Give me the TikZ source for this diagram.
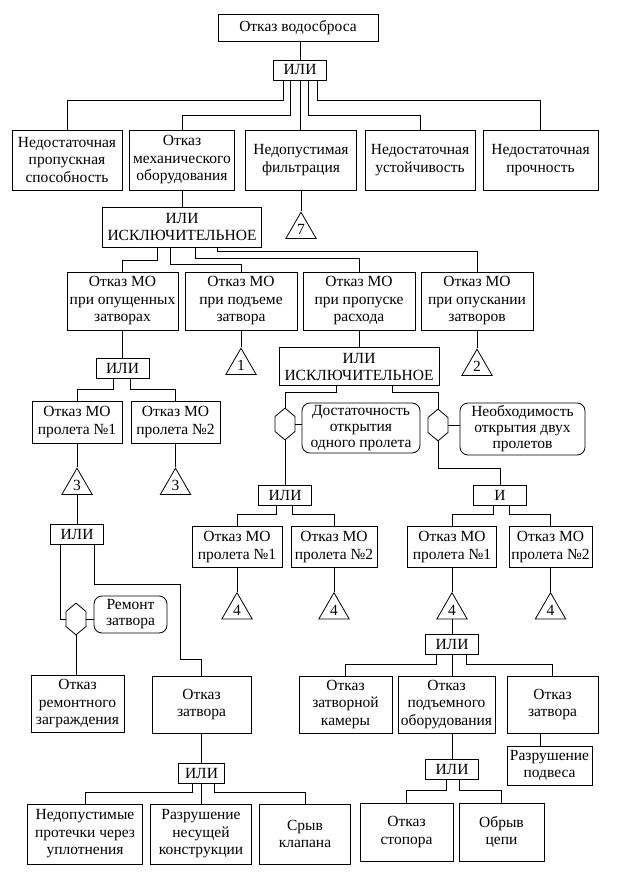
\documentclass[tikz,border=0pt]{standalone}
\usepackage{fontspec}
\setmainfont{Liberation Serif}
\usetikzlibrary{shapes.geometric,shapes.symbols,positioning}

\tikzset{
  box/.style={draw,rectangle,align=center,inner sep=1pt},
  gate/.style={draw,rectangle,inner sep=0pt,minimum width=53pt,minimum height=20pt},
  trg/.style={draw,regular polygon,regular polygon sides=3,inner sep=0pt,minimum size=35pt},
  hexa/.style={draw,signal,signal to=north and south,signal pointer angle=100,inner sep=0pt,minimum width=20pt,minimum height=15pt},
  cond/.style={draw,rounded corners=8pt,align=center,inner sep=1pt,font=\fontsize{15.5}{16}\selectfont}
}

\begin{document}
\begin{tikzpicture}[x=1pt,y=-1pt,line width=0.8pt,font=\fontsize{15.5}{17.5}\selectfont]
\useasboundingbox (0,0) rectangle (618,882);

% Top event
\node[box,minimum width=160pt,minimum height=27pt] (top) at (298,28) {Отказ водосброса};
\node[gate] (or0) at (300,70) {ИЛИ};

% First level
\node[box,minimum width=110pt,minimum height=60pt] (b1) at (67,160) {Недостаточная\\пропускная\\способность};
\node[box,minimum width=105pt,minimum height=60pt] (b2) at (182,160) {Отказ\\механического\\оборудования};
\node[box,minimum width=111pt,minimum height=60pt] (b3) at (301,160) {Недопустимая\\фильтрация};
\node[box,minimum width=110pt,minimum height=60pt] (b4) at (420,160) {Недостаточная\\устойчивость};
\node[box,minimum width=115pt,minimum height=60pt] (b5) at (540.5,160) {Недостаточная\\прочность};
\node[trg,below=21pt of b3] (t7) {7};

% Mechanical equipment
\node[box,minimum width=159pt,minimum height=40pt] (xor1) at (182,227) {ИЛИ\\ИСКЛЮЧИТЕЛЬНОЕ};
\node[box,minimum width=111pt,minimum height=58pt] (a) at (122.5,301) {Отказ МО\\при опущенных\\затворах};
\node[box,minimum width=112pt,minimum height=58pt] (b) at (241,301) {Отказ МО\\при подъеме\\затвора};
\node[box,minimum width=112pt,minimum height=58pt] (c) at (359,301) {Отказ МО\\при пропуске\\расхода};
\node[box,minimum width=112pt,minimum height=58pt] (d) at (477,301) {Отказ МО\\при опускании\\затворов};
\node[trg,below=17pt of b] (t1) {1};
\node[trg,below=18pt of d] (t2) {2};

% Lowered gates
\node[gate,below=28pt of a] (or1) {ИЛИ};
\node[box,minimum width=90pt,minimum height=42pt] (l1) at (77,422) {Отказ МО\\пролета №1};
\node[box,minimum width=89pt,minimum height=42pt] (l2) at (175.5,422) {Отказ МО\\пролета №2};
\node[trg,below=24pt of l1] (t3a) {3};
\node[trg,below=24pt of l2] (t3b) {3};
\node[gate,below=29pt of t3a] (or2) {ИЛИ};
\node[hexa] (h3) at (76,619) {};
\node[cond,minimum width=73pt,minimum height=37pt] (r3) at (130.5,614.5) {Ремонт\\затвора};
\node[box,minimum width=93pt,minimum height=57pt] (e1) at (77.5,704) {Отказ\\ремонтного\\заграждения};
\node[box,minimum width=99pt,minimum height=57pt] (e2) at (201.5,704.5) {Отказ\\затвора};
\node[gate,minimum width=46pt,below=30pt of e2] (or5) {ИЛИ};
\node[box,minimum width=115pt,minimum height=60pt] (f1) at (85,834) {Недопустимые\\протечки через\\уплотнения};
\node[box,minimum width=101pt,minimum height=60pt] (f2) at (201,834) {Разрушение\\несущей\\конструкции};
\node[box,minimum width=91pt,minimum height=60pt] (f3) at (305,834) {Срыв\\клапана};

% Discharge
\node[box,minimum width=160pt,minimum height=38pt,below=17pt of c] (xor2) {ИЛИ\\ИСКЛЮЧИТЕЛЬНОЕ};
\node[hexa] (h1) at (285,424) {};
\node[hexa] (h2) at (438,425) {};
\node[cond,minimum width=118pt,minimum height=50pt] (r1) at (361,428) {Достаточность\\открытия\\одного пролета};
\node[cond,minimum width=125pt,minimum height=52pt] (r2) at (522.5,429) {Необходимость\\открытия двух\\пролетов};
\node[gate] (or3) at (285,495) {ИЛИ};
\node[gate] (and1) at (500,495) {И};
\node[box,minimum width=90pt,minimum height=41pt] (m1) at (237,547) {Отказ МО\\пролета №1};
\node[box,minimum width=86pt,minimum height=41pt] (m2) at (334,547) {Отказ МО\\пролета №2};
\node[box,minimum width=89pt,minimum height=41pt] (m3) at (452,547) {Отказ МО\\пролета №1};
\node[box,minimum width=83pt,minimum height=41pt] (m4) at (550.5,547) {Отказ МО\\пролета №2};
\node[trg,below=24pt of m1] (t4a) {4};
\node[trg,below=24pt of m2] (t4b) {4};
\node[trg,below=24pt of m3] (t4c) {4};
\node[trg,below=24pt of m4] (t4d) {4};
\node[gate,below=15pt of t4c] (or4) {ИЛИ};
\node[box,minimum width=93pt,minimum height=57pt] (e3) at (345.5,704.5) {Отказ\\затворной\\камеры};
\node[box,minimum width=97pt,minimum height=57pt] (e4) at (446.5,704.5) {Отказ\\подъемного\\оборудования};
\node[box,minimum width=91pt,minimum height=57pt] (e5) at (552.5,704.5) {Отказ\\затвора};
\node[gate] (or6) at (452,769.5) {ИЛИ};
\node[box,minimum width=85pt,minimum height=39pt] (s1) at (549.5,765.5) {Разрушение\\подвеса};
\node[box,minimum width=93pt,minimum height=58pt] (f4) at (406.5,832) {Отказ\\стопора};
\node[box,minimum width=85pt,minimum height=58pt] (f5) at (501.5,832) {Обрыв\\цепи};

% Connectors
\draw (top.south -| or0.north) -- (or0.north);
\draw ([xshift=-17pt]or0.south) -- ++(0,20) -| (b1.north);
\draw ([xshift=-10pt]or0.south) -- ++(0,35) -| (b2.north);
\draw (or0.south) -- (or0.south |- b3.north);
\draw ([xshift=8pt]or0.south) -- ++(0,35) -| (b4.north);
\draw ([xshift=17pt]or0.south) -- ++(0,20) -| (b5.north);
\draw (b3.south) -- (t7.north);
\draw (b2.south) -- (xor1.north);
\draw ([xshift=-25pt]xor1.south) -- ++(0,13) -| (a.north);
\draw ([xshift=-12pt]xor1.south) -- ++(0,17) -| (b.north);
\draw ([xshift=13pt]xor1.south) -- ++(0,11) -| (c.north);
\draw ([xshift=35pt]xor1.south) -- ++(0,4) -| (d.north);
\draw (a.south) -- (or1.north);
\draw (b.south) -- (t1.north);
\draw (c.south) -- (xor2.north);
\draw (d.south) -- (t2.north);

\draw ([xshift=-9pt]or1.south) -- ++(0,10) -| (l1.north);
\draw ([xshift=8pt]or1.south) -- ++(0,10) -| (l2.north);
\draw (l1.south) -- (t3a.north);
\draw (l2.south) -- (t3b.north);
\draw (t3a.south) -- (or2.north);
\draw ([xshift=-17pt]or2.south) |- (h3.west);
\draw (h3.east) -- (h3.east -| r3.west);
\draw (h3.south) -- (h3.south |- e1.north);
\draw ([xshift=17pt]or2.south) -- ++(0,40) -- ++(86,0) -- ++(0,75) -| (e2.north);
\draw (e2.south) -- (or5.north);
\draw ([xshift=-9pt]or5.south) -- ++(0,8) -| (f1.north);
\draw (or5.south) -- (or5.south |- f2.north);
\draw ([xshift=13pt]or5.south) -- ++(0,8) -| (f3.north);

\draw ([xshift=-23pt]xor2.south) -- ++(0,6) -| (h1.north);
\draw ([xshift=33pt]xor2.south) -- ++(0,6) -| (h2.north);
\draw (h1.east) -- (h1.east -| r1.west);
\draw (h2.east) -- (h2.east -| r2.west);
\draw (h1.south) -- (or3.north);
\draw (h2.south) -- ++(0,27) -| (and1.north);
\draw ([xshift=-9pt]or3.south) -- ++(0,9) -| (m1.north);
\draw ([xshift=7pt]or3.south) -- ++(0,9) -| (m2.north);
\draw ([xshift=-7pt]and1.south) -- ++(0,9) -| (m3.north);
\draw ([xshift=9pt]and1.south) -- ++(0,9) -| (m4.north);
\draw (m1.south) -- (t4a.north);
\draw (m2.south) -- (t4b.north);
\draw (m3.south) -- (t4c.north);
\draw (m4.south) -- (t4d.north);
\draw (t4c.south) -- (or4.north);
\draw ([xshift=-16pt]or4.south) -- ++(0,9) -| (e3.north);
\draw (or4.south) -- (or4.south |- e4.north);
\draw ([xshift=14pt]or4.south) -- ++(0,9) -| (e5.north);
\draw (or6.north |- e4.south) -- (or6.north);
\draw ([xshift=-6pt]or6.south) -- ++(0,10) -| (f4.north);
\draw ([xshift=7pt]or6.south) -- ++(0,10) -| (f5.north);
\draw ([xshift=-12pt]e5.south) -- ([xshift=-12pt]e5.south |- s1.north);
\end{tikzpicture}
\end{document}
